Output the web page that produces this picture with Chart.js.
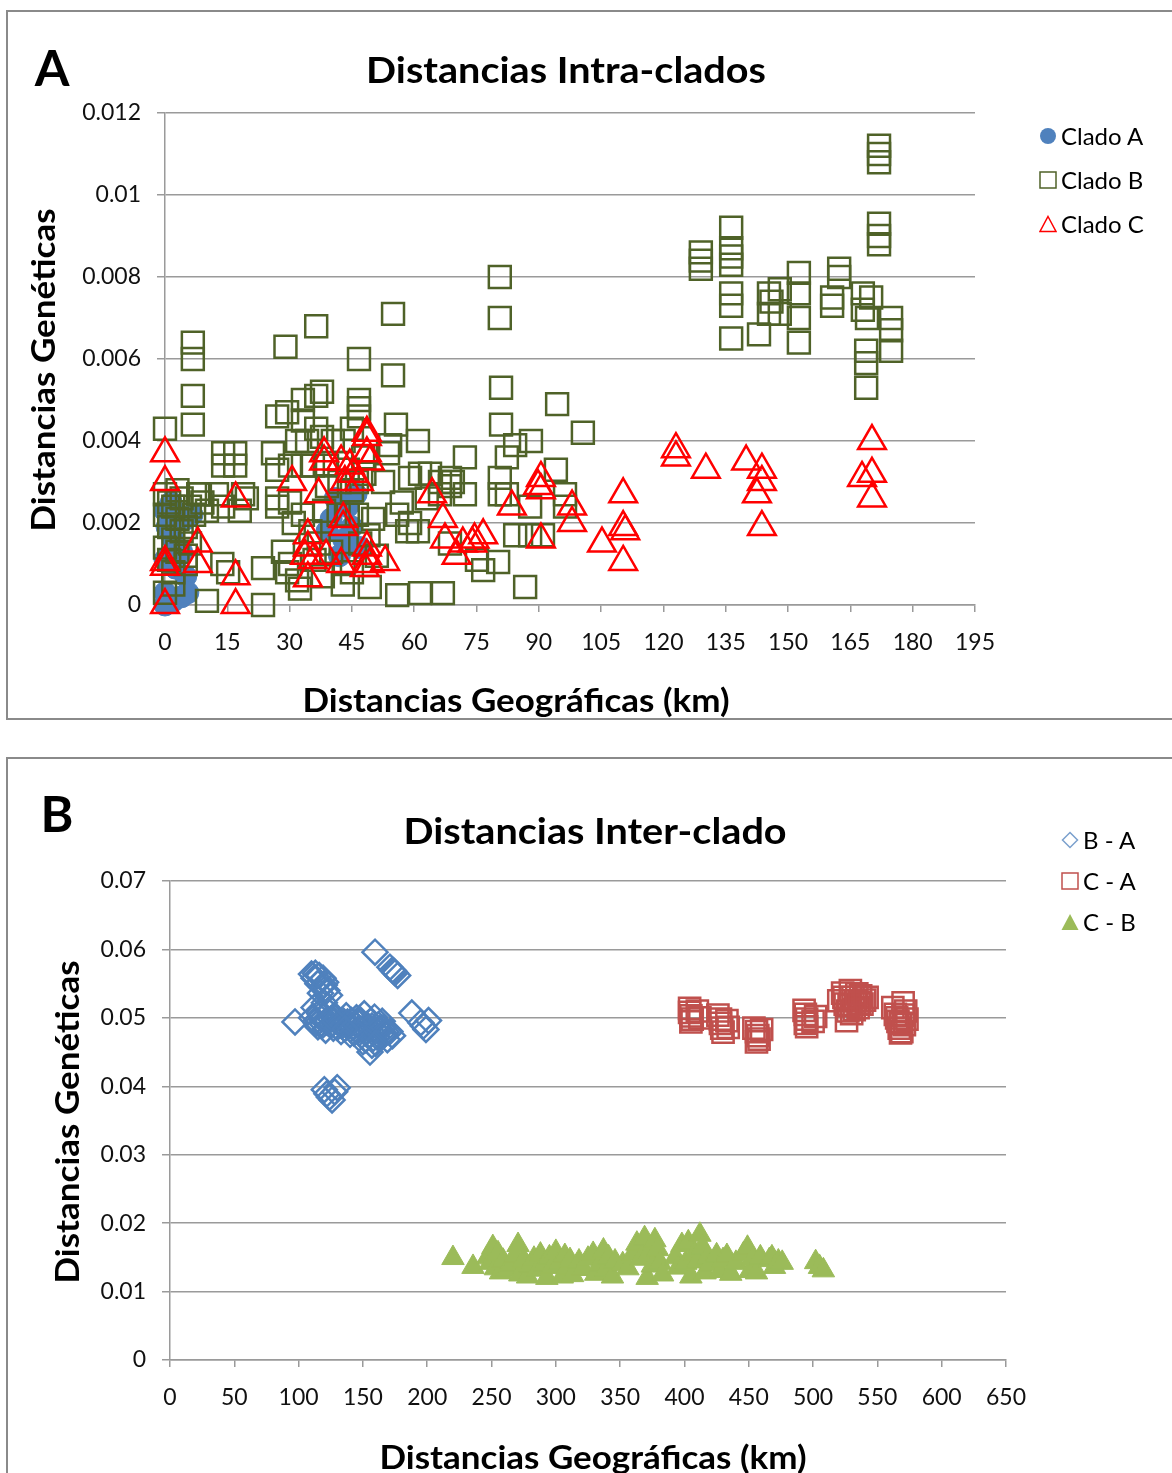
<!DOCTYPE html>
<html>
<head>
<meta charset="utf-8">
<script src="https://cdn.jsdelivr.net/npm/chart.js@4.4.1/dist/chart.umd.min.js"></script>
<style>
  html, body { margin: 0; padding: 0; background: #fff; width: 1172px; height: 1473px; overflow: hidden; }
  body { position: relative; font-family: Lato, "Open Sans", sans-serif; color: #000; }
  .panel { position: absolute; box-sizing: border-box; border: 2px solid #8a8a8a; overflow: hidden; background: #fff; }
  .panel canvas { position: absolute; left: 0; top: 0; }
  .t { position: absolute; transform: translate(-50%, -50%); line-height: 1; white-space: nowrap; }
  .b { font-weight: bold; }
  .ttl { font-size: 37px; transform: translate(-50%, -50%) scaleX(1.07); }
  .ax { font-size: 33px; transform: translate(-50%, -50%) scaleX(1.06); }
  .rot { transform: translate(-50%, -50%) rotate(-90deg) scaleX(1.06); }
  .leg { position: absolute; display: flex; align-items: center; font-size: 24px; line-height: 1; white-space: nowrap; transform: translateY(-50%); }
  .leg svg { margin-right: 4px; }
</style>
</head>
<body>

<div class="panel" id="panelA" style="left:6px;top:10px;width:1200px;height:710px">
  <canvas id="chartA" width="1164" height="706"></canvas>
  <div class="t b" style="left:44px;top:55px;font-size:50px">A</div>
  <div class="t b ttl" style="left:558px;top:56px">Distancias Intra-clados</div>
  <div class="t b ax rot" style="left:34px;top:358px">Distancias Genéticas</div>
  <div class="t b ax" style="left:508px;top:687px">Distancias Geográficas (km)</div>
  <div class="leg" style="left:1031px;top:124px"><svg width="18" height="18"><circle cx="9" cy="9" r="8" fill="#4F81BD"/></svg>Clado A</div>
  <div class="leg" style="left:1031px;top:168px"><svg width="18" height="18"><rect x="1" y="1" width="16" height="16" fill="none" stroke="#4F6228" stroke-width="1.5"/></svg>Clado B</div>
  <div class="leg" style="left:1031px;top:212px"><svg width="18" height="18"><polygon points="9,1.5 17,16.5 1,16.5" fill="none" stroke="#FF0000" stroke-width="1.5"/></svg>Clado C</div>
</div>

<div class="panel" id="panelB" style="left:6px;top:757px;width:1200px;height:760px">
  <canvas id="chartB" width="1164" height="714"></canvas>
  <div class="t b" style="left:49px;top:54px;font-size:50px">B</div>
  <div class="t b ttl" style="left:587px;top:70px">Distancias Inter-clado</div>
  <div class="t b ax rot" style="left:58px;top:363px">Distancias Genéticas</div>
  <div class="t b ax" style="left:585px;top:697px">Distancias Geográficas (km)</div>
  <div class="leg" style="left:1053px;top:81px"><svg width="18" height="18"><polygon points="9,1.5 16.5,9 9,16.5 1.5,9" fill="none" stroke="#7BA0CD" stroke-width="1.5"/></svg>B - A</div>
  <div class="leg" style="left:1053px;top:122px"><svg width="18" height="18"><rect x="1" y="1" width="16" height="16" fill="none" stroke="#C0504D" stroke-width="1.5"/></svg>C - A</div>
  <div class="leg" style="left:1053px;top:163px"><svg width="18" height="18"><polygon points="9,1 17.5,17 0.5,17" fill="#9BBB59"/></svg>C - B</div>
</div>

<script>
// ---- Panel A: Distancias Intra-clados ----
const xTicksA = [0, 15, 30, 45, 60, 75, 90, 105, 120, 135, 150, 165, 180, 195];
const yTicksA = [0, 0.002, 0.004, 0.006, 0.008, 0.010, 0.012];
const yLabelsA = ['0', '0.002', '0.004', '0.006', '0.008', '0.01', '0.012'];

const cladoA = [
  [0, 0.0023], [1.5, 0.0025], [3, 0.0022], [5, 0.0021], [6.5, 0.0022], [0.5, 0.0019], [2, 0.0016],
  [4, 0.0013], [0, 0.0011], [2.5, 0.0009], [5, 0.0007], [0, 0.0003], [2, 0.0001], [4, 0.0002],
  [5.5, 0.0003], [0, 0], [41, 0.0026], [44, 0.0024], [46, 0.0027], [40, 0.0021], [45, 0.0019],
  [43, 0.0016], [47, 0.0014], [42, 0.0012], [39, 0.0018]
];

const cladoB = [
  [0, 0.0043], [6.7, 0.0064], [6.7, 0.0060], [6.7, 0.0051], [6.7, 0.0044],
  [0, 0.0027], [1, 0.0025], [2, 0.0024], [0, 0.0022], [3, 0.0021], [1, 0.0019], [4, 0.0018], [2, 0.0016],
  [0, 0.0014], [3, 0.0013], [1, 0.0011], [5, 0.0010], [2, 0.0008], [4, 0.0026], [6, 0.0024], [7, 0.0022],
  [5, 0.0019], [6, 0.0015], [8, 0.0027], [9, 0.0025], [3, 0.0028], [5, 0.0012], [2, 0.0005], [0, 0.0003],
  [8.4, 0.0027], [12.5, 0.0027], [10.1, 0.0023], [14, 0.0024], [18, 0.0023], [18.8, 0.0027], [19.7, 0.0026],
  [14, 0.0037], [16.9, 0.0037], [14, 0.0034], [16.9, 0.0034], [13.8, 0.0010], [15.2, 0.0008], [10.1, 0.0001],
  [23.6, 0.0009], [23.6, 0], [26, 0.0037], [27, 0.0033], [27, 0.0046], [29.4, 0.0047], [29, 0.0063],
  [27, 0.0024], [27, 0.0026], [30.1, 0.0025], [33.2, 0.0022], [31, 0.0020], [28.4, 0.0013], [30.1, 0.0010],
  [29.4, 0.0008], [31.8, 0.0006], [32.5, 0.0004], [30.1, 0.0034], [33.2, 0.0034], [35.6, 0.0034], [39, 0.0034],
  [31.8, 0.0040], [34.2, 0.0040], [37.8, 0.0041], [40.4, 0.0040], [36.4, 0.0043], [33.2, 0.0045], [33.2, 0.0050],
  [36.4, 0.0051], [37.8, 0.0052], [36.4, 0.0068], [38.3, 0.0023], [41.8, 0.0022], [44, 0.0022], [46.2, 0.0022],
  [39, 0.0029], [42, 0.0030], [45, 0.0028], [35, 0.0018], [37, 0.0015], [40, 0.0013], [43, 0.0010], [45, 0.0008],
  [42.8, 0.0005], [49.3, 0.00044], [36, 0.0011], [38, 0.0007], [46.7, 0.0060], [46.7, 0.0050], [46.7, 0.0048],
  [46.7, 0.0046], [47.7, 0.0036], [44, 0.0033], [48, 0.0032], [50.1, 0.0021], [52.5, 0.0030], [53.7, 0.0037],
  [54.2, 0.0039], [46.2, 0.0030], [47, 0.0015], [49, 0.0017], [51, 0.0012], [43, 0.0040], [45, 0.0043],
  [54.9, 0.0071], [54.9, 0.0056], [55.6, 0.0044], [60.9, 0.0040], [55.9, 0.0022], [59, 0.0020], [58.3, 0.0018],
  [60.9, 0.0018], [59, 0.0031], [61.4, 0.0032], [63.8, 0.0032], [66.2, 0.0030], [69.3, 0.0030], [66.2, 0.0027],
  [72.2, 0.0027], [68.6, 0.0029], [72.2, 0.0036], [55.9, 0.00024], [61.4, 0.00029], [66.9, 0.00029],
  [57, 0.0025], [63, 0.0026], [75.1, 0.0011], [76.6, 0.00085], [80.2, 0.00105], [86.7, 0.00044], [68.6, 0.0015],
  [80.6, 0.0080], [80.6, 0.0070], [80.9, 0.0053], [94.4, 0.0049], [80.9, 0.0044], [100.6, 0.0042],
  [84.3, 0.0039], [88.1, 0.0040], [82.3, 0.0036], [94.1, 0.0033], [80.6, 0.0031], [80.6, 0.0027],
  [82.3, 0.0027], [96.3, 0.0027], [96.3, 0.0024], [87.9, 0.0024], [84.3, 0.0017], [87.9, 0.0017], [91, 0.0017],
  [68.6, 0.0031],
  [171.9, 0.0112], [171.9, 0.0110], [171.9, 0.0108], [171.9, 0.0093], [171.9, 0.0090], [171.9, 0.0088],
  [129, 0.0086], [129, 0.0084], [129, 0.0082],
  [136.3, 0.0092], [136.3, 0.0087], [136.3, 0.0085], [136.3, 0.0083], [136.3, 0.0076], [136.3, 0.0073], [136.3, 0.0065],
  [143, 0.0066], [145.4, 0.0076], [145.4, 0.0071], [146, 0.0074], [148, 0.0077], [148, 0.0071],
  [152.6, 0.0081], [152.6, 0.0076], [152.6, 0.0070], [152.6, 0.0064],
  [160.6, 0.0075], [160.6, 0.0073], [162.3, 0.0082], [162.3, 0.0080],
  [168, 0.0076], [168, 0.0072], [169, 0.0070], [170, 0.0075],
  [168.8, 0.0062], [168.8, 0.0059], [168.8, 0.0053],
  [174.8, 0.0070], [174.8, 0.0067], [174.8, 0.0062]
];

const cladoC = [
  [0, 0.0037], [0, 0.0030], [0, 0.00105], [0, 0.00093], [0, 0],
  [7.9, 0.0015], [7.9, 0.0010], [17, 0.0026], [17, 0.0007], [17, 0],
  [30.6, 0.0030], [38.3, 0.0037], [38.3, 0.0035], [37, 0.0027], [42.4, 0.0035], [44.5, 0.0034], [43.3, 0.0030],
  [45.3, 0.0032], [48.6, 0.0042], [48.6, 0.0041], [48.6, 0.0037], [49.3, 0.0035], [46.7, 0.0030],
  [42.9, 0.0021], [42.9, 0.0019], [34.4, 0.0017], [34.4, 0.0014], [33.7, 0.0012], [35.6, 0.0011], [34.4, 0.00065],
  [38.8, 0.0012], [42.4, 0.0010], [48.6, 0.0014], [48.6, 0.0012], [49.3, 0.0010], [53, 0.00105], [48.1, 0.0009],
  [64.3, 0.0027], [66.9, 0.0021], [67.4, 0.0016], [70.2, 0.0012], [71.7, 0.0015], [74, 0.0015], [74.5, 0.0016],
  [90.5, 0.0031], [89.8, 0.0029], [90.5, 0.0028], [83.5, 0.0024], [98, 0.0024], [98, 0.0020], [76.6, 0.0017],
  [90.5, 0.0016], [105.2, 0.0015],
  [110.3, 0.0027], [110.3, 0.0019], [110.8, 0.0018], [110.3, 0.00105],
  [123, 0.0038], [123, 0.0036], [130.2, 0.0033], [139.9, 0.0035], [143.7, 0.0033], [143.7, 0.0030],
  [142.5, 0.0027], [143.7, 0.0019],
  [170.2, 0.0040], [170.2, 0.0032], [170.2, 0.0026], [167.8, 0.0031]
];

// ---- Panel B: Distancias Inter-clado ----
const xTicksB = [0, 50, 100, 150, 200, 250, 300, 350, 400, 450, 500, 550, 600, 650];
const yTicksB = [0, 0.01, 0.02, 0.03, 0.04, 0.05, 0.06, 0.07];
const yLabelsB = ['0', '0.01', '0.02', '0.03', '0.04', '0.05', '0.06', '0.07'];

const serieBA = [
  [159.4, 0.0596], [171, 0.0574], [173, 0.0570], [175, 0.0566], [177, 0.0562], [174, 0.0568],
  [110, 0.0564], [113, 0.0565], [116, 0.0562], [119, 0.0558], [121, 0.0552], [115, 0.0550], [118, 0.0545],
  [122, 0.0540], [124, 0.0533], [117, 0.0536], [112, 0.0558], [120, 0.0548], [97.2, 0.0494],
  [110, 0.0500], [113, 0.0495], [115, 0.0487], [117, 0.0505], [119, 0.0490], [121, 0.0482], [123, 0.0510],
  [125, 0.0498], [127, 0.0485], [129, 0.0502], [131, 0.0492], [133, 0.0480], [135, 0.0495], [137, 0.0503],
  [139, 0.0488], [141, 0.0496], [143, 0.0478], [145, 0.0500], [147, 0.0492], [149, 0.0483], [151, 0.0506],
  [153, 0.0490], [155, 0.0475], [157, 0.0488], [159, 0.0501], [161, 0.0472], [163, 0.0484], [165, 0.0495],
  [167, 0.0476], [169, 0.0468], [171, 0.0480], [173, 0.0474], [155.5, 0.0450], [157, 0.0460], [150, 0.0465],
  [112, 0.0515], [120, 0.0522], [114, 0.0492], [118, 0.0498], [122, 0.0494], [126, 0.0491], [130, 0.0486],
  [134, 0.0489], [138, 0.0494], [142, 0.0486], [146, 0.0481], [148, 0.0497], [152, 0.0478], [154, 0.0485],
  [156, 0.0495], [158, 0.0470], [160, 0.0482], [162, 0.0490], [164, 0.0476], [166, 0.0486], [168, 0.0479],
  [140, 0.0476], [144, 0.0491], [152, 0.0468], [160, 0.0463], [116, 0.0508], [128, 0.0496], [136, 0.0484],
  [188, 0.0507], [195, 0.0493], [197, 0.0488], [199, 0.0483], [201, 0.0496],
  [120, 0.0395], [122, 0.0389], [124, 0.0384], [126, 0.0380], [128, 0.0392], [130, 0.0398]
];

const serieCA = [
  [404, 0.0514], [404, 0.0508], [405, 0.0503], [406, 0.0498], [405, 0.0494], [410, 0.0510], [412, 0.0500],
  [426, 0.0504], [428, 0.0498], [428, 0.0492], [429, 0.0485], [430, 0.0479], [433, 0.0496], [434, 0.0486],
  [454, 0.0485], [456, 0.0480], [457, 0.0474], [458, 0.0469], [456, 0.0465], [460, 0.0483],
  [493, 0.0511], [494, 0.0505], [495, 0.0498], [494, 0.0492], [495, 0.0487], [502, 0.0502], [500, 0.0495],
  [520, 0.0525], [523, 0.0536], [525, 0.0520], [527, 0.0510], [529, 0.0540], [531, 0.0530], [533, 0.0525],
  [535, 0.0515], [537, 0.0532], [540, 0.0526], [526, 0.0496], [530, 0.0506], [538, 0.0520], [542, 0.0530],
  [528, 0.0518], [532, 0.0512], [536, 0.0522], [524, 0.0530], [534, 0.0535],
  [562, 0.0515], [564, 0.0505], [566, 0.0495], [567, 0.0485], [568, 0.0478], [570, 0.0522], [572, 0.0510],
  [571, 0.0490], [573, 0.0498], [569, 0.0480], [565, 0.0500], [568, 0.0492], [570, 0.0504]
];

const serieCB = [
  [220, 0.0149], [235.6, 0.0136],
  [247, 0.0150], [249, 0.0142], [251, 0.0165], [253, 0.0134], [255, 0.0156], [257, 0.0128], [259, 0.0145], [262, 0.0132],
  [266, 0.0140], [268, 0.0152], [270.6, 0.0168], [272, 0.0125], [275, 0.0146], [278, 0.0122], [280, 0.0138],
  [283, 0.0148], [286, 0.0132], [288, 0.0154], [291, 0.0140], [293, 0.0120], [295, 0.0150], [297, 0.0136],
  [300, 0.0158], [303, 0.0142], [305, 0.0122], [307, 0.0152], [309, 0.0135], [311, 0.0146], [313, 0.0124],
  [318, 0.0144], [321, 0.0133], [325, 0.0148], [329, 0.0155], [331, 0.0126], [334, 0.0140], [337, 0.0160],
  [339, 0.0132], [341, 0.0150], [344, 0.0122], [346, 0.0144],
  [352, 0.0140], [356, 0.0134], [360, 0.0155], [363, 0.0170], [366, 0.0148], [369, 0.0178], [371, 0.0120],
  [373, 0.0158], [375, 0.0138], [377, 0.0175], [379, 0.0162], [381, 0.0142], [383, 0.0125],
  [393, 0.0150], [395, 0.0135], [398, 0.0168], [401, 0.0142], [403, 0.0172], [405, 0.0122], [408, 0.0156],
  [410, 0.0144], [412, 0.0183], [414, 0.0165], [416, 0.0128], [418, 0.0150], [420, 0.0140],
  [425, 0.0153], [428, 0.0130], [430, 0.0146], [433, 0.0152], [436, 0.0126], [440, 0.0142],
  [446, 0.0155], [449, 0.0164], [451, 0.0130], [453, 0.0148], [456, 0.0128], [459, 0.0150],
  [466, 0.0146], [468, 0.0150], [470, 0.0136], [473, 0.0144], [476, 0.0142],
  [502, 0.0143], [505, 0.0136], [508, 0.0131]
];

const FONT = 'Lato, "Open Sans", sans-serif';
const GRID = '#9a9a9a';

function pts(arr) { return arr.map(p => ({ x: p[0], y: p[1] })); }

function axes(xTicks, xMax, yTicks, yLabels, yMax, yWidth, xHeight) {
  return {
    x: {
      type: 'linear', min: 0, max: xMax,
      afterBuildTicks: s => { s.ticks = xTicks.map(v => ({ value: v })); },
      afterFit: s => { s.height = xHeight; },
      grid: { drawOnChartArea: false, drawTicks: true, tickLength: 7, color: GRID, lineWidth: 1.5 },
      border: { display: true, color: GRID, width: 1.5 },
      ticks: { autoSkip: false, maxRotation: 0, padding: 17, color: '#111', font: { family: FONT, size: 23 },
        callback: (v, i) => String(xTicks[i]) }
    },
    y: {
      type: 'linear', min: 0, max: yMax,
      afterBuildTicks: s => { s.ticks = yTicks.map(v => ({ value: v })); },
      afterFit: s => { s.width = yWidth; },
      grid: { drawTicks: true, tickLength: 8, color: GRID, lineWidth: 1.5 },
      border: { display: true, color: GRID, width: 1.5 },
      ticks: { autoSkip: false, padding: 16, color: '#111', font: { family: FONT, size: 23 },
        callback: (v, i) => yLabels[i] }
    }
  };
}

const common = {
  responsive: false,
  animation: false,
  devicePixelRatio: 1,
  events: [],
  plugins: { legend: { display: false }, tooltip: { enabled: false } }
};

new Chart(document.getElementById('chartA'), {
  type: 'scatter',
  data: {
    datasets: [
      { label: 'Clado C', data: pts(cladoC), order: 1, clip: false, pointStyle: 'triangle', pointRadius: 16,
        borderColor: '#FF0000', backgroundColor: 'rgba(0,0,0,0)', borderWidth: 2.5 },
      { label: 'Clado B', data: pts(cladoB), order: 2, clip: false, pointStyle: 'rect', pointRadius: 15.5,
        borderColor: '#4F6228', backgroundColor: 'rgba(0,0,0,0)', borderWidth: 2.5 },
      { label: 'Clado A', data: pts(cladoA), order: 3, clip: false, pointStyle: 'circle', pointRadius: 11,
        borderColor: '#4F81BD', backgroundColor: '#4F81BD', borderWidth: 1 }
    ]
  },
  options: Object.assign({}, common, {
    layout: { padding: { left: 0, top: 101, right: 197, bottom: 0 } },
    scales: axes(xTicksA, 195, yTicksA, yLabelsA, 0.012, 157, 113)
  })
});

new Chart(document.getElementById('chartB'), {
  type: 'scatter',
  data: {
    datasets: [
      { label: 'B - A', data: pts(serieBA), clip: false, pointStyle: 'rectRot', pointRadius: 12.5,
        borderColor: '#4F81BD', backgroundColor: 'rgba(0,0,0,0)', borderWidth: 2.5 },
      { label: 'C - A', data: pts(serieCA), clip: false, pointStyle: 'rect', pointRadius: 15,
        borderColor: '#C0504D', backgroundColor: 'rgba(0,0,0,0)', borderWidth: 2.5 },
      { label: 'C - B', data: pts(serieCB), clip: false, pointStyle: 'triangle', pointRadius: 13,
        borderColor: '#9BBB59', backgroundColor: '#9BBB59', borderWidth: 1 }
    ]
  },
  options: Object.assign({}, common, {
    layout: { padding: { left: 0, top: 122, right: 166, bottom: 0 } },
    scales: axes(xTicksB, 650, yTicksB, yLabelsB, 0.07, 162, 113)
  })
});
</script>
</body>
</html>
